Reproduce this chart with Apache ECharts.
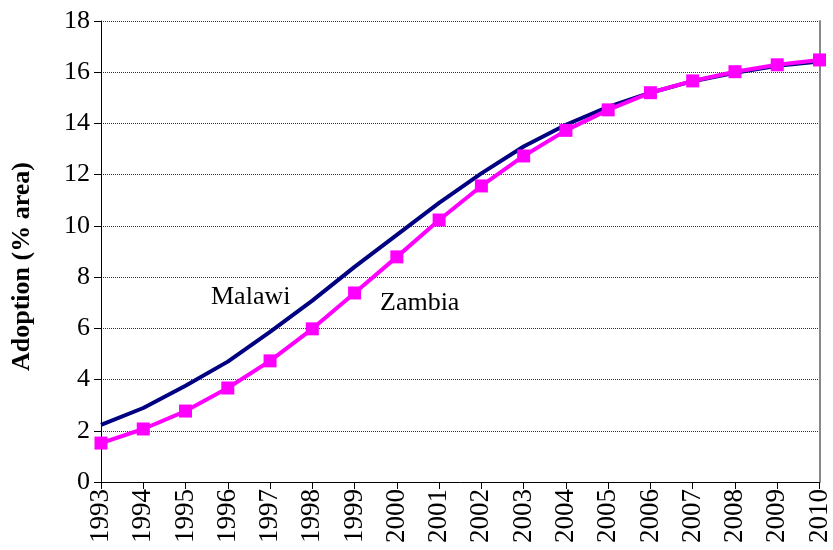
<!DOCTYPE html>
<html>
<head>
<meta charset="utf-8">
<script src="https://cdn.jsdelivr.net/npm/echarts@6/dist/echarts.min.js"></script>
<style>
  html, body { margin: 0; padding: 0; background: #fff; }
  #main { width: 833px; height: 550px; }
</style>
</head>
<body>
<div id="main"></div>
<script>
var years = ["1993", "1994", "1995", "1996", "1997", "1998", "1999", "2000", "2001",
  "2002", "2003", "2004", "2005", "2006", "2007", "2008", "2009", "2010"];
var malawi = [2.23, 2.89, 3.76, 4.70, 5.86, 7.08, 8.40, 9.65, 10.9, 12.05, 13.1,
  13.95, 14.65, 15.2, 15.65, 15.98, 16.25, 16.42];
var zambia = [1.52, 2.07, 2.77, 3.67, 4.73, 5.98, 7.38, 8.79, 10.23, 11.56, 12.73,
  13.73, 14.53, 15.2, 15.66, 16.02, 16.29, 16.48];
var yTicks = [0, 2, 4, 6, 8, 10, 12, 14, 16, 18];

var font = "Liberation Serif";
var myChart = echarts.init(document.getElementById("main"));

var option = {
  animation: false,
  grid: { left: 101, right: 11, top: 21, bottom: 68 },
  xAxis: {
    type: "category",
    data: years,
    boundaryGap: false,
    axisLine: { lineStyle: { color: "#000", width: 1 } },
    axisTick: { show: true, length: 7, lineStyle: { color: "#000" } },
    axisLabel: {
      rotate: 90,
      color: "#000",
      fontFamily: font,
      fontSize: 27,
      margin: 7,
      interval: 0
    },
    splitLine: { show: false }
  },
  yAxis: [
    {
      type: "value",
      min: 0,
      max: 18,
      interval: 2,
      name: "Adoption (% area)",
      nameLocation: "middle",
      nameGap: 66,
      nameTextStyle: {
        fontFamily: font, fontSize: 26, fontWeight: "bold", color: "#000",
        padding: [0, 30, 0, 0]
      },
      axisLine: { show: true, lineStyle: { color: "#000" } },
      axisTick: { show: true, length: 7, lineStyle: { color: "#000" } },
      axisLabel: {
        color: "#000",
        fontFamily: font,
        fontSize: 26,
        margin: 11,
        formatter: function (v) { return yTicks.indexOf(v) >= 0 ? String(v) : ""; }
      },
      splitLine: { show: true, lineStyle: { color: "#333", type: [1, 1], width: 1 } }
    },
    {
      type: "value",
      min: 0,
      max: 18,
      position: "right",
      axisLine: { show: true, lineStyle: { color: "#888", width: 2 } },
      axisTick: { show: false },
      axisLabel: { show: false },
      splitLine: { show: false }
    }
  ],
  series: [
    {
      name: "Malawi",
      type: "line",
      data: malawi,
      showSymbol: false,
      symbol: "none",
      lineStyle: { color: "#000080", width: 4 },
      itemStyle: { color: "#000080" },
      z: 2
    },
    {
      name: "Zambia",
      type: "line",
      data: zambia,
      symbol: "rect",
      symbolSize: 13,
      lineStyle: { color: "#FF00FF", width: 4 },
      itemStyle: { color: "#FF00FF" },
      z: 3
    }
  ],
  graphic: [
    {
      type: "text",
      left: 211,
      top: 284,
      style: { text: "Malawi", fontFamily: font, fontSize: 26, fill: "#000" }
    },
    {
      type: "text",
      left: 380,
      top: 290,
      style: { text: "Zambia", fontFamily: font, fontSize: 26, fill: "#000" }
    }
  ]
};

myChart.setOption(option);
</script>
</body>
</html>
